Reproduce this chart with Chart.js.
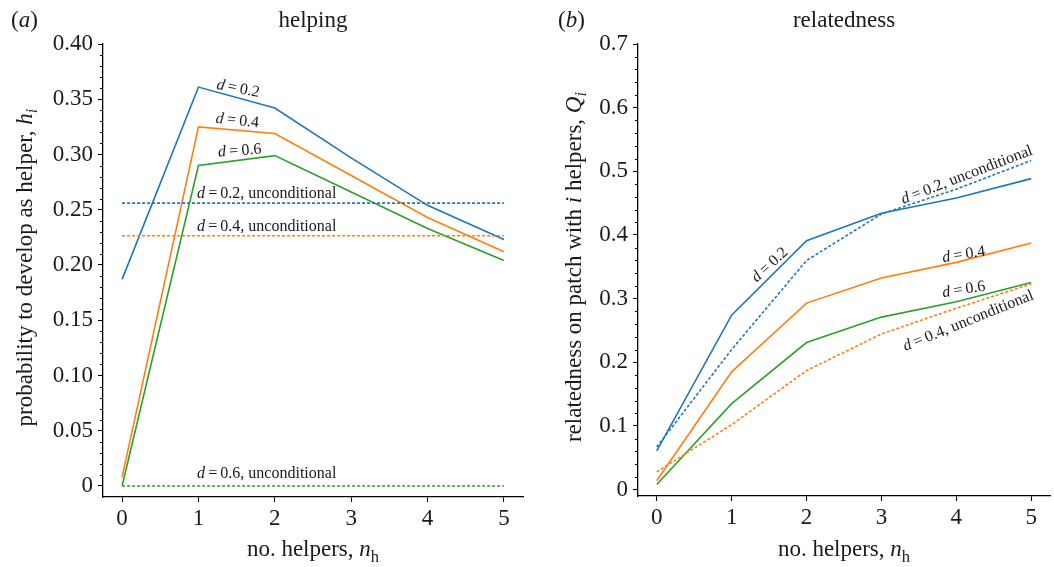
<!DOCTYPE html>
<html><head><meta charset="utf-8">
<script src="https://cdn.jsdelivr.net/npm/chart.js@4.4.1/dist/chart.umd.min.js"></script>
<style>
html,body{margin:0;padding:0;background:#fff;}
#wrap{position:relative;width:1054px;height:567px;}
.p{position:absolute;top:0;width:527px;height:567px;}
</style></head><body>
<div id="wrap">
<div class="p" style="left:0"><canvas id="ca" width="527" height="567"></canvas></div>
<div class="p" style="left:527px"><canvas id="cb" width="527" height="567"></canvas></div>
</div>
<script>
// ---------- data ----------
const helpers = [0, 1, 2, 3, 4, 5];
const xTickLabels = ['0', '1', '2', '3', '4', '5'];

// panel (a): helping probability h_i
const helpD02 = [0.187, 0.361, 0.342, 0.297, 0.254, 0.223];
const helpD04 = [0.008, 0.325, 0.319, 0.281, 0.243, 0.212];
const helpD06 = [0.000, 0.290, 0.299, 0.266, 0.233, 0.204];
const helpUncD02 = [0.256, 0.256, 0.256, 0.256, 0.256, 0.256];
const helpUncD04 = [0.2265, 0.2265, 0.2265, 0.2265, 0.2265, 0.2265];
const helpUncD06 = [0, 0, 0, 0, 0, 0];
const yTicksA = [0, 0.05, 0.10, 0.15, 0.20, 0.25, 0.30, 0.35, 0.40];
const yTickLabelsA = ['0', '0.05', '0.10', '0.15', '0.20', '0.25', '0.30', '0.35', '0.40'];

// panel (b): relatedness Q_i
const relD02 = [0.061, 0.274, 0.391, 0.434, 0.458, 0.4885];
const relD04 = [0.014, 0.185, 0.293, 0.3325, 0.357, 0.3875];
const relD06 = [0.008, 0.135, 0.231, 0.271, 0.295, 0.3255];
const relUncD02 = [0.067, 0.220, 0.360, 0.433, 0.472, 0.517];
const relUncD04 = [0.028, 0.102, 0.187, 0.2445, 0.285, 0.323];
const yTicksB = [0, 0.1, 0.2, 0.3, 0.4, 0.5, 0.6, 0.7];
const yTickLabelsB = ['0', '0.1', '0.2', '0.3', '0.4', '0.5', '0.6', '0.7'];

// ---------- styling / helpers ----------
const BLUE = '#1f77b4', ORANGE = '#ff7f0e', GREEN = '#2ca02c';
const FONT = '"Liberation Serif", "Times New Roman", serif';
const TXT = '#1a1a1a';

function pts(ys) { return helpers.map((x, i) => ({x: x, y: ys[i]})); }
function solid(ys, c) { return {data: pts(ys), borderColor: c, borderWidth: 1.6, pointRadius: 0, tension: 0, fill: false}; }
function dotted(ys, c) { return {data: pts(ys), borderColor: c, borderWidth: 1.6, borderDash: [3, 2], pointRadius: 0, tension: 0, fill: false}; }

function fontOf(p, size) { const s = p.sub ? size * 0.72 : size; return (p.i ? 'italic ' : '') + s + 'px ' + FONT; }
function richWidth(ctx, parts, size) { let w = 0; for (const p of parts) { ctx.font = fontOf(p, size); w += ctx.measureText(p.t).width; } return w; }
function drawRich(ctx, parts, x, y, size, align, angle, baseline) {
  ctx.save();
  ctx.translate(x, y);
  ctx.rotate((angle || 0) * Math.PI / 180);
  const w = richWidth(ctx, parts, size);
  let cx = align === 'center' ? -w / 2 : align === 'right' ? -w : 0;
  ctx.textBaseline = baseline || 'alphabetic';
  ctx.textAlign = 'left';
  ctx.fillStyle = TXT;
  for (const p of parts) {
    ctx.font = fontOf(p, size);
    ctx.fillText(p.t, cx, p.sub ? size * 0.28 : 0);
    cx += ctx.measureText(p.t).width;
  }
  ctx.restore();
}
const dEq = v => [{t: 'd', i: true}, {t: '\u2009=\u2009' + v}];

function makeChart(id, cfg) {
  const overlay = {
    id: 'overlay',
    afterDraw(chart) {
      const ctx = chart.ctx, a = chart.chartArea, xs = chart.scales.x, ys = chart.scales.y;
      // minor ticks on y
      ctx.save();
      ctx.strokeStyle = '#000'; ctx.lineWidth = 1;
      const n = Math.round(cfg.yMax / cfg.minorStep);
      for (let k = 0; k <= n; k++) {
        const v = k * cfg.minorStep;
        if (cfg.yTicks.some(t => Math.abs(t - v) < 1e-9)) continue;
        const py = Math.round(ys.getPixelForValue(v)) + 0.5;
        ctx.beginPath(); ctx.moveTo(a.left - 3, py); ctx.lineTo(a.left, py); ctx.stroke();
      }
      ctx.restore();
      // panel titles
      drawRich(ctx, [{t: '('}, {t: cfg.letter, i: true}, {t: ')'}], cfg.letterX, 21, 23, 'left', 0, 'middle');
      drawRich(ctx, [{t: cfg.title}], (a.left + a.right) / 2, 21, 23, 'center', 0, 'middle');
      // x title
      drawRich(ctx, [{t: 'no. helpers, '}, {t: 'n', i: true}, {t: 'h', sub: true}], (a.left + a.right) / 2, 556, 23, 'center', 0, 'alphabetic');
      // y title
      drawRich(ctx, cfg.yTitle, cfg.yTitleX, (a.top + a.bottom) / 2 - 3, 23, 'center', -90, 'middle');
      // annotations
      for (const an of cfg.notes) {
        drawRich(ctx, an.parts, xs.getPixelForValue(an.x), ys.getPixelForValue(an.y), 16, an.align, an.angle, an.baseline);
      }
    }
  };
  return new Chart(document.getElementById(id), {
    type: 'line',
    data: {datasets: cfg.datasets},
    options: {
      responsive: false, animation: false, devicePixelRatio: 1,
      layout: {padding: {top: 44, right: 4, left: 0, bottom: cfg.padBottom}},
      plugins: {legend: {display: false}, tooltip: {enabled: false}, title: {display: false}},
      scales: {
        x: {
          type: 'linear', min: -0.25, max: 5.25,
          afterBuildTicks: s => { s.ticks = helpers.map(v => ({value: v})); },
          afterFit: s => { s.height = 70; },
          ticks: {callback: v => xTickLabels[helpers.indexOf(v)], font: {family: FONT, size: 23}, color: TXT, padding: 3, maxRotation: 0, autoSkip: false},
          grid: {display: true, drawOnChartArea: false, drawTicks: true, tickLength: 5, tickColor: '#000', tickWidth: 1.1},
          border: {display: true, color: '#000', width: 1.3}
        },
        y: {
          type: 'linear', min: -0.01, max: cfg.yMax,
          afterBuildTicks: s => { s.ticks = cfg.yTicks.map(v => ({value: v})); },
          afterFit: s => { s.width = cfg.yWidth; },
          ticks: {callback: v => cfg.yTickLabels[cfg.yTicks.findIndex(t => Math.abs(t - v) < 1e-9)], font: {family: FONT, size: 23}, color: TXT, padding: 5, autoSkip: false},
          grid: {display: true, drawOnChartArea: false, drawTicks: true, tickLength: 5, tickColor: '#000', tickWidth: 1.1},
          border: {display: true, color: '#000', width: 1.3}
        }
      }
    },
    plugins: [overlay]
  });
}

makeChart('ca', {
  letter: 'a', letterX: 11, title: 'helping',
  yMax: 0.40, yTicks: yTicksA, yTickLabels: yTickLabelsA, minorStep: 0.01,
  yWidth: 103, padBottom: 0, yTitleX: 26,
  yTitle: [{t: 'probability to develop as helper, '}, {t: 'h', i: true}, {t: 'i', i: true, sub: true}],
  datasets: [
    dotted(helpUncD02, BLUE), dotted(helpUncD04, ORANGE), dotted(helpUncD06, GREEN),
    solid(helpD02, BLUE), solid(helpD04, ORANGE), solid(helpD06, GREEN)
  ],
  notes: [
    {parts: dEq('0.2'), x: 1.52, y: 0.3595, align: 'center', angle: 11, baseline: 'middle'},
    {parts: dEq('0.4'), x: 1.51, y: 0.3305, align: 'center', angle: 6, baseline: 'middle'},
    {parts: dEq('0.6'), x: 1.54, y: 0.3033, align: 'center', angle: -4, baseline: 'middle'},
    {parts: dEq('0.2, unconditional'), x: 0.98, y: 0.2610, align: 'left', angle: 0, baseline: 'alphabetic'},
    {parts: dEq('0.4, unconditional'), x: 0.98, y: 0.2306, align: 'left', angle: 0, baseline: 'alphabetic'},
    {parts: dEq('0.6, unconditional'), x: 0.98, y: 0.0070, align: 'left', angle: 0, baseline: 'alphabetic'}
  ]
});

makeChart('cb', {
  letter: 'b', letterX: 31, title: 'relatedness',
  yMax: 0.70, yTicks: yTicksB, yTickLabels: yTickLabelsB, minorStep: 0.02,
  yWidth: 111, padBottom: 1, yTitleX: 48,
  yTitle: [{t: 'relatedness on patch with '}, {t: 'i', i: true}, {t: ' helpers, '}, {t: 'Q', i: true}, {t: 'i', i: true, sub: true}],
  datasets: [
    dotted(relUncD02, BLUE), dotted(relUncD04, ORANGE),
    solid(relD02, BLUE), solid(relD04, ORANGE), solid(relD06, GREEN)
  ],
  notes: [
    {parts: dEq('0.2'), x: 1.51, y: 0.353, align: 'center', angle: -43, baseline: 'middle'},
    {parts: dEq('0.2, unconditional'), x: 4.14, y: 0.494, align: 'center', angle: -21, baseline: 'middle'},
    {parts: dEq('0.4'), x: 4.10, y: 0.369, align: 'center', angle: -9, baseline: 'middle'},
    {parts: dEq('0.6'), x: 4.10, y: 0.314, align: 'center', angle: -9, baseline: 'middle'},
    {parts: dEq('0.4, unconditional'), x: 4.16, y: 0.265, align: 'center', angle: -22, baseline: 'middle'}
  ]
});
</script>
</body></html>
